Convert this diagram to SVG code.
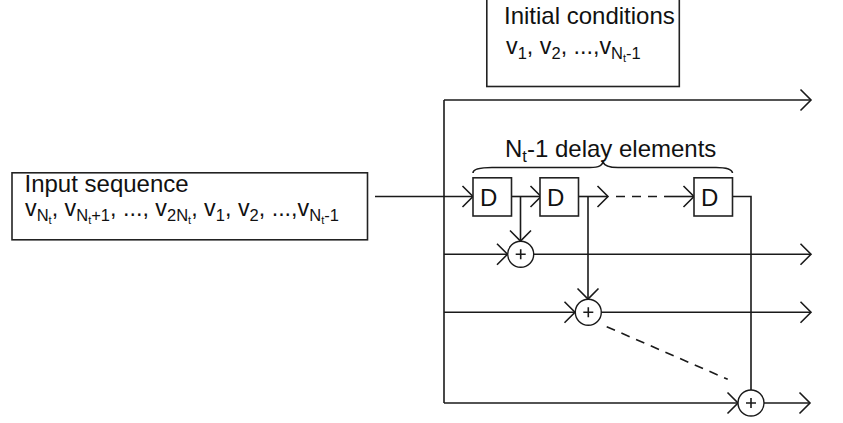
<svg xmlns="http://www.w3.org/2000/svg" width="843" height="423" viewBox="0 0 843 423">
<style>
text{font-family:"Liberation Sans",Arial,sans-serif;fill:#111}
.t{font-size:24px}
.m{font-size:23.300px}
.s{font-size:16.500px}
.u{font-size:11px}
.box{fill:#fff;stroke:#222;stroke-width:1.6}
.l{fill:none;stroke:#1a1a1a;stroke-width:1.6}
.d{stroke-dasharray:9 7}
.sum{fill:#fff;stroke:#1a1a1a;stroke-width:1.4}
</style>
<defs>
<marker id="a" markerUnits="userSpaceOnUse" markerWidth="14" markerHeight="24" refX="11.5" refY="12" orient="auto" overflow="visible">
<path d="M1 1.500L11.500 12L1 22.500" fill="none" stroke="#1a1a1a" stroke-width="1.6"/>
</marker>
</defs>
<g id="connectors">
<path class="l" d="M444 100V403"/>
<path class="l" d="M444 100H811" marker-end="url(#a)"/>
<path class="l" d="M375 196.500H473" marker-end="url(#a)"/>
<path class="l" d="M511 196.500H541" marker-end="url(#a)"/>
<path class="l" d="M520.500 196.500V241" marker-end="url(#a)"/>
<path class="l" d="M578.500 196.500H608" marker-end="url(#a)"/>
<path class="l d" d="M616 196.500H665"/>
<path class="l" d="M665 196.500H694" marker-end="url(#a)"/>
<path class="l" d="M588 196.500V299" marker-end="url(#a)"/>
<path class="l" d="M732 196.500H751V390"/>
<path class="l" d="M444 254.300H507.500" marker-end="url(#a)"/>
<path class="l" d="M534 254.300H811" marker-end="url(#a)"/>
<path class="l" d="M444 312.200H575" marker-end="url(#a)"/>
<path class="l" d="M601.500 312.200H811" marker-end="url(#a)" stroke-width="2"/>
<path class="l" d="M444 403H738" marker-end="url(#a)"/>
<path class="l" d="M764 403H810" marker-end="url(#a)"/>
<path class="l d" d="M606.700 326.700L727.700 379.300"/>
<path class="l" d="M473 173C473 169 480 167.500 492 167.500H590C600 167.500 602 165 603 162C604 165 608 167.500 618 167.500H716C727 167.500 732 169 732.500 173" stroke-width="1.3"/>
</g>
<g id="input-sequence">
<rect class="box" x="12" y="172.800" width="355.500" height="67"/>
<text class="t" x="24.500" y="191.700">Input sequence</text>
<text class="m" x="25" y="215.500">v<tspan class="s" dy="5">N</tspan><tspan class="u" dy="3">t</tspan><tspan dy="-8">, v</tspan><tspan class="s" dy="5">N</tspan><tspan class="u" dy="3">t</tspan><tspan class="s" dy="-3">+1</tspan><tspan dy="-5">, ..., v</tspan><tspan class="s" dy="5">2N</tspan><tspan class="u" dy="3">t</tspan><tspan dy="-8">, v</tspan><tspan class="s" dy="5">1</tspan><tspan dy="-5">, v</tspan><tspan class="s" dy="5">2</tspan><tspan dy="-5">, ...,v</tspan><tspan class="s" dy="5">N</tspan><tspan class="u" dy="3">t</tspan><tspan class="s" dy="-3">-1</tspan></text>
</g>
<g id="initial-conditions">
<rect class="box" x="486.800" y="-2" width="192.500" height="88.500"/>
<text class="t" x="504" y="23.500">Initial conditions</text>
<text class="m" x="506" y="53.500">v<tspan class="s" dy="5">1</tspan><tspan dy="-5">, v</tspan><tspan class="s" dy="5">2</tspan><tspan dy="-5">, ...,v</tspan><tspan class="s" dy="5">N</tspan><tspan class="u" dy="3">t</tspan><tspan class="s" dy="-3">-1</tspan></text>
</g>
<g id="delay-label">
<text class="t" x="505" y="157">N<tspan class="s" dy="5">t</tspan><tspan dy="-5">-1 delay elements</tspan></text>
</g>
<g id="delay-1"><rect class="box" x="473" y="177.800" width="38.500" height="38.200"/><text class="t" x="480" y="206">D</text></g>
<g id="delay-2"><rect class="box" x="540" y="177.800" width="38.500" height="38.200"/><text class="t" x="547" y="206">D</text></g>
<g id="delay-3"><rect class="box" x="694" y="177.800" width="38.500" height="38.200"/><text class="t" x="701" y="206">D</text></g>
<g id="sum-1"><circle class="sum" cx="520.700" cy="254.300" r="13"/><path class="l" d="M515.700 254.300h10M520.700 249.300v10"/></g>
<g id="sum-2"><circle class="sum" cx="588.300" cy="312.200" r="13"/><path class="l" d="M583.300 312.200h10M588.300 307.200v10"/></g>
<g id="sum-3"><circle class="sum" cx="751" cy="403" r="13"/><path class="l" d="M746 403h10M751 398v10"/></g>
</svg>
